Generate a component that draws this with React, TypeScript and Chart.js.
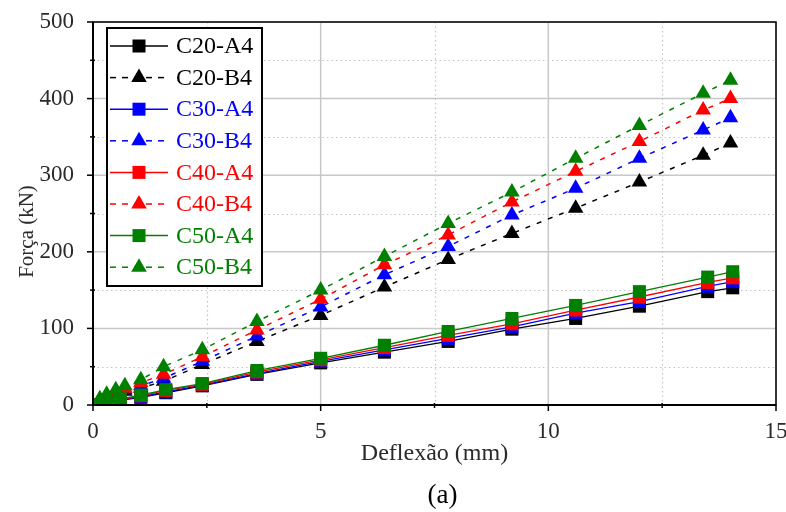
import React, { useEffect, useRef } from 'react';
import { Chart, registerables } from 'chart.js';

Chart.register(...registerables);

const SERIES_NAMES = ['C20-A4', 'C20-B4', 'C30-A4', 'C30-B4', 'C40-A4', 'C40-B4', 'C50-A4', 'C50-B4'];
const SERIES_COLORS = ['#000000', '#000000', '#0000ff', '#0000ff', '#ff0000', '#ff0000', '#008000', '#008000'];

const A4_X = [0, 0.3, 0.6, 1.05, 1.6, 2.4, 3.6, 5.0, 6.4, 7.8, 9.2, 10.6, 12.0, 13.5, 14.05];
const B4_X = [0, 0.15, 0.3, 0.5, 0.7, 1.05, 1.55, 2.4, 3.6, 5.0, 6.4, 7.8, 9.2, 10.6, 12.0, 13.4, 14.0];

const C20_A4 = [0, 3, 6, 10, 16, 25, 40, 55, 69, 83, 99, 113, 129, 148, 153];
const C30_A4 = [0, 3, 7, 11, 17, 26, 41, 57, 72, 87, 102, 120, 135, 155, 161];
const C40_A4 = [0, 4, 7, 12, 19, 27, 43, 59, 75, 91, 106, 124, 141, 160, 166];
const C50_A4 = [0, 4, 8, 13, 20, 28, 45, 61, 78, 96, 113, 130, 148, 167, 174];

const C20_B4 = [0, 5, 10, 14, 18, 22, 31, 53, 83, 117, 154, 190, 224, 257, 291, 326, 342];
const C30_B4 = [0, 6, 11, 16, 20, 25, 35, 57, 90, 128, 170, 207, 248, 283, 322, 359, 375];
const C40_B4 = [0, 7, 12, 18, 22, 29, 40, 63, 98, 138, 183, 222, 265, 305, 344, 385, 400];
const C50_B4 = [0, 8, 14, 20, 25, 33, 50, 72, 109, 150, 194, 237, 278, 322, 365, 407, 424];

const SERIES_VALUES = [C20_A4, C20_B4, C30_A4, C30_B4, C40_A4, C40_B4, C50_A4, C50_B4];

const X_MAJOR = [0, 5, 10, 15];
const X_MINOR = [2.5, 7.5, 12.5];
const Y_MAJOR = [0, 100, 200, 300, 400, 500];
const Y_MINOR = [50, 150, 250, 350, 450];

const X_TITLE = 'Deflexão (mm)';
const Y_TITLE = 'Força (kN)';
const CAPTION = '(a)';

const FONT = '"Liberation Serif", "Times New Roman", serif';

const isB4 = (i: number) => i % 2 === 1;

function drawMarker(ctx: CanvasRenderingContext2D, tri: boolean, x: number, y: number, color: string) {
  ctx.save();
  ctx.fillStyle = color;
  ctx.beginPath();
  if (tri) {
    const r = 9;
    ctx.moveTo(x, y - r);
    ctx.lineTo(x + r * 0.866, y + r * 0.5);
    ctx.lineTo(x - r * 0.866, y + r * 0.5);
    ctx.closePath();
  } else {
    ctx.rect(x - 6.5, y - 6.5, 13, 13);
  }
  ctx.fill();
  ctx.restore();
}

const decorPlugin = {
  id: 'decor',
  beforeDatasetsDraw(chart: any) {
    const { ctx, chartArea } = chart;
    const { left, right, top, bottom } = chartArea;
    const xs = chart.scales.x;
    const ys = chart.scales.y;
    ctx.save();
    ctx.strokeStyle = '#c4c4c4';
    ctx.lineWidth = 1.2;
    ctx.setLineDash([1.5, 3]);
    X_MINOR.forEach((v) => {
      const p = Math.round(xs.getPixelForValue(v)) + 0.5;
      ctx.beginPath(); ctx.moveTo(p, top); ctx.lineTo(p, bottom); ctx.stroke();
    });
    Y_MINOR.forEach((v) => {
      const p = Math.round(ys.getPixelForValue(v)) + 0.5;
      ctx.beginPath(); ctx.moveTo(left, p); ctx.lineTo(right, p); ctx.stroke();
    });
    ctx.setLineDash([]);
    ctx.strokeStyle = '#c8c8c8';
    ctx.lineWidth = 1.5;
    X_MAJOR.forEach((v) => {
      const p = xs.getPixelForValue(v);
      ctx.beginPath(); ctx.moveTo(p, top); ctx.lineTo(p, bottom); ctx.stroke();
    });
    Y_MAJOR.forEach((v) => {
      const p = ys.getPixelForValue(v);
      ctx.beginPath(); ctx.moveTo(left, p); ctx.lineTo(right, p); ctx.stroke();
    });
    ctx.restore();
  },
  afterDraw(chart: any) {
    const { ctx, chartArea } = chart;
    const { left, right, top, bottom } = chartArea;
    const xs = chart.scales.x;
    const ys = chart.scales.y;
    ctx.save();
    ctx.strokeStyle = '#000';
    ctx.lineWidth = 1.5;
    ctx.strokeRect(left, top, right - left, bottom - top);
    ctx.lineWidth = 2;
    ctx.beginPath(); ctx.moveTo(left, top); ctx.lineTo(left, bottom); ctx.lineTo(right, bottom); ctx.stroke();
    ctx.lineWidth = 1.5;
    X_MAJOR.forEach((v) => {
      const p = xs.getPixelForValue(v);
      ctx.beginPath(); ctx.moveTo(p, bottom); ctx.lineTo(p, bottom + 6); ctx.stroke();
    });
    X_MINOR.forEach((v) => {
      const p = xs.getPixelForValue(v);
      ctx.beginPath(); ctx.moveTo(p, bottom - 2); ctx.lineTo(p, bottom + 3); ctx.stroke();
    });
    Y_MAJOR.forEach((v) => {
      const p = ys.getPixelForValue(v);
      ctx.beginPath(); ctx.moveTo(left - 6, p); ctx.lineTo(left, p); ctx.stroke();
    });
    Y_MINOR.forEach((v) => {
      const p = ys.getPixelForValue(v);
      ctx.beginPath(); ctx.moveTo(left - 3, p); ctx.lineTo(left + 2, p); ctx.stroke();
    });

    ctx.fillStyle = '#2a2a2a';
    ctx.textAlign = 'center';
    ctx.textBaseline = 'middle';
    ctx.font = `24px ${FONT}`;
    ctx.fillText(X_TITLE, (left + right) / 2, bottom + 49);
    ctx.save();
    ctx.translate(27, (top + bottom) / 2 + 18);
    ctx.rotate(-Math.PI / 2);
    ctx.font = `21px ${FONT}`;
    ctx.fillText(Y_TITLE, 0, 0);
    ctx.restore();
    ctx.fillStyle = '#000';
    ctx.font = `27px ${FONT}`;
    ctx.fillText(CAPTION, (left + right) / 2 + 8, bottom + 91);

    const bx = left + 14;
    const by = top + 6;
    const bw = 155;
    const bh = 258;
    ctx.fillStyle = '#fff';
    ctx.fillRect(bx, by, bw, bh);
    ctx.strokeStyle = '#000';
    ctx.lineWidth = 2;
    ctx.strokeRect(bx, by, bw, bh);
    ctx.font = `24px ${FONT}`;
    ctx.textAlign = 'left';
    SERIES_NAMES.forEach((name, i) => {
      const y = by + 18 + i * 31.6;
      const color = SERIES_COLORS[i];
      ctx.strokeStyle = color;
      ctx.lineWidth = 1.5;
      ctx.setLineDash(isB4(i) ? [6, 6] : []);
      ctx.beginPath(); ctx.moveTo(bx + 3, y); ctx.lineTo(bx + 61, y); ctx.stroke();
      ctx.setLineDash([]);
      drawMarker(ctx, isB4(i), bx + 32, y, color);
      ctx.fillStyle = color;
      ctx.fillText(name, bx + 69, y + 1);
    });
    ctx.restore();
  },
};

export default function App() {
  const ref = useRef<HTMLCanvasElement>(null);

  useEffect(() => {
    if (!ref.current) return;
    const datasets = SERIES_NAMES.map((name, i) => {
      const xsArr = isB4(i) ? B4_X : A4_X;
      return {
        label: name,
        data: SERIES_VALUES[i].map((v, j) => ({ x: xsArr[j], y: v })),
        borderColor: SERIES_COLORS[i],
        backgroundColor: SERIES_COLORS[i],
        pointBackgroundColor: SERIES_COLORS[i],
        pointBorderColor: SERIES_COLORS[i],
        pointBorderWidth: 0,
        borderWidth: isB4(i) ? 1.5 : 1.3,
        borderDash: isB4(i) ? [5, 7] : [],
        pointStyle: isB4(i) ? 'triangle' : 'rect',
        pointRadius: isB4(i) ? 9 : 9.2,
        tension: 0,
        fill: false,
        order: SERIES_NAMES.length - i,
      };
    });
    const chart = new Chart(ref.current, {
      type: 'line',
      data: { datasets },
      options: {
        animation: false,
        responsive: false,
        maintainAspectRatio: false,
        layout: { padding: { top: 22, right: 10, bottom: 0, left: 0 } },
        plugins: { legend: { display: false }, tooltip: { enabled: false } },
        scales: {
          x: {
            type: 'linear',
            min: 0,
            max: 15,
            grid: { display: false },
            border: { display: false },
            ticks: { stepSize: 5, padding: 5, color: '#2a2a2a', font: { family: FONT, size: 23 }, maxRotation: 0 },
            afterFit: (s: any) => { s.height = 107; s.paddingLeft = 0; s.paddingRight = 0; },
          },
          y: {
            type: 'linear',
            min: 0,
            max: 500,
            grid: { display: false },
            border: { display: false },
            ticks: { stepSize: 100, padding: 11, color: '#2a2a2a', font: { family: FONT, size: 23 } },
            afterFit: (s: any) => { s.width = 93; s.paddingTop = 0; s.paddingBottom = 0; },
          },
        },
      },
      plugins: [decorPlugin],
    });
    return () => chart.destroy();
  }, []);

  return (
    <div style={{ position: 'absolute', left: 0, top: 0, width: 786, height: 512, background: '#fff' }}>
      <canvas ref={ref} width={786} height={512} style={{ width: 786, height: 512 }} />
    </div>
  );
}
